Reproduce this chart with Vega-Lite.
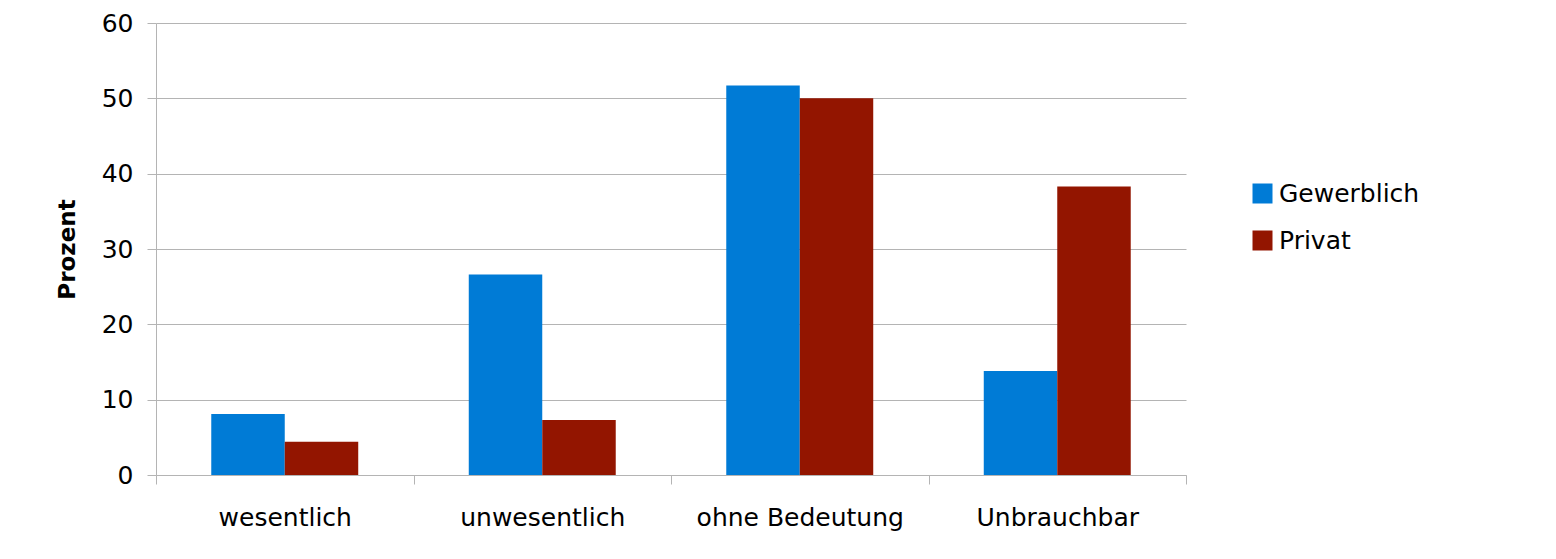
{
  "$schema": "https://vega.github.io/schema/vega-lite/v6.json",
  "autosize": "none",
  "width": 1030,
  "height": 452,
  "padding": {"left": 156, "top": 23, "right": 370, "bottom": 84},
  "background": "white",
  "config": {
    "font": "DejaVu Sans",
    "view": {"stroke": null}
  },
  "data": {
    "values": [
      {"kategorie": "wesentlich", "gruppe": "Gewerblich", "prozent": 8.1},
      {"kategorie": "wesentlich", "gruppe": "Privat", "prozent": 4.4},
      {"kategorie": "unwesentlich", "gruppe": "Gewerblich", "prozent": 26.6},
      {"kategorie": "unwesentlich", "gruppe": "Privat", "prozent": 7.3},
      {"kategorie": "ohne Bedeutung", "gruppe": "Gewerblich", "prozent": 51.7},
      {"kategorie": "ohne Bedeutung", "gruppe": "Privat", "prozent": 50.0},
      {"kategorie": "Unbrauchbar", "gruppe": "Gewerblich", "prozent": 13.8},
      {"kategorie": "Unbrauchbar", "gruppe": "Privat", "prozent": 38.3}
    ]
  },
  "mark": {"type": "bar"},
  "encoding": {
    "x": {
      "field": "kategorie",
      "type": "nominal",
      "sort": ["wesentlich", "unwesentlich", "ohne Bedeutung", "Unbrauchbar"],
      "scale": {"paddingInner": 0, "paddingOuter": 0},
      "axis": {
        "title": null,
        "labelAngle": 0,
        "labelFontSize": 25,
        "labelColor": "#000000",
        "labelPadding": 21,
        "labelLimit": 0,
        "tickBand": "extent",
        "tickSize": 9,
        "tickColor": "#b4b4b4",
        "domainColor": "#b4b4b4",
        "grid": false
      }
    },
    "xOffset": {
      "field": "gruppe",
      "type": "nominal",
      "scale": {"domain": ["Gewerblich", "Privat"], "paddingInner": 0, "paddingOuter": 0.752}
    },
    "y": {
      "field": "prozent",
      "type": "quantitative",
      "scale": {"domain": [0, 60], "nice": false},
      "axis": {
        "title": "Prozent",
        "titleFontSize": 23,
        "titleFontWeight": "bold",
        "titleColor": "#000000",
        "titlePadding": 22,
        "values": [0, 10, 20, 30, 40, 50, 60],
        "labelFontSize": 25,
        "labelColor": "#000000",
        "labelPadding": 14,
        "tickSize": 9,
        "tickColor": "#b4b4b4",
        "domainColor": "#b4b4b4",
        "gridColor": "#b4b4b4",
        "grid": true
      }
    },
    "color": {
      "field": "gruppe",
      "type": "nominal",
      "scale": {"domain": ["Gewerblich", "Privat"], "range": ["#007bd6", "#931500"]},
      "legend": {
        "title": null,
        "orient": "none",
        "legendX": 1094,
        "legendY": 158,
        "padding": 0,
        "symbolType": "square",
        "symbolSize": 400,
        "symbolStrokeWidth": 0,
        "labelFontSize": 25,
        "labelColor": "#000000",
        "labelOffset": 4,
        "rowPadding": 21
      }
    }
  }
}
